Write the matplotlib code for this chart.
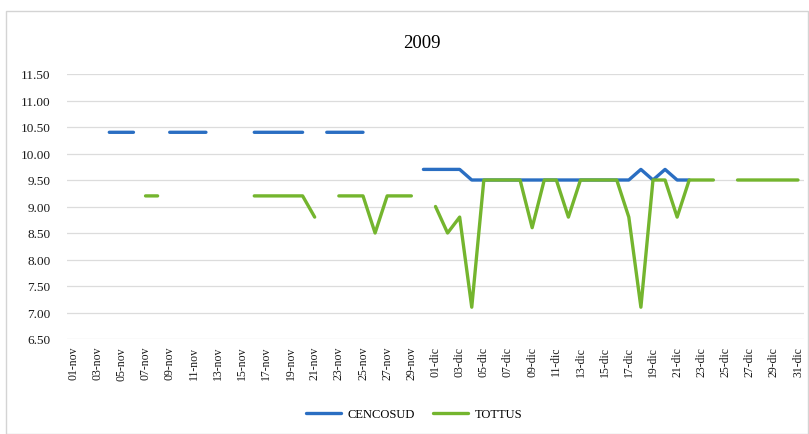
import numpy as np
import matplotlib
matplotlib.use("Agg")
import matplotlib.pyplot as plt
from matplotlib.patches import Rectangle

nan = np.nan

# categories: one per day, 01-nov .. 31-dic
dias = [f"{d:02d}-nov" for d in range(1, 31)] + [f"{d:02d}-dic" for d in range(1, 32)]

cencosud = [nan, nan, nan, 10.4, 10.4, 10.4, nan, nan, 10.4, 10.4,
            10.4, 10.4, nan, nan, nan, 10.4, 10.4, 10.4, 10.4, 10.4,
            nan, 10.4, 10.4, 10.4, 10.4, nan, nan, nan, nan, 9.7,
            9.7, 9.7, 9.7, 9.5, 9.5, 9.5, 9.5, 9.5, 9.5, 9.5,
            9.5, 9.5, 9.5, 9.5, 9.5, 9.5, 9.5, 9.7, 9.5, 9.7,
            9.5, 9.5, nan, nan, nan, nan, nan, nan, nan, nan, nan]

tottus = [nan, nan, nan, nan, nan, nan, 9.2, 9.2, nan, nan,
          nan, nan, nan, nan, nan, 9.2, 9.2, 9.2, 9.2, 9.2,
          8.8, nan, 9.2, 9.2, 9.2, 8.5, 9.2, 9.2, 9.2, nan,
          9.0, 8.5, 8.8, 7.1, 9.5, 9.5, 9.5, 9.5, 8.6, 9.5,
          9.5, 8.8, 9.5, 9.5, 9.5, 9.5, 8.8, 7.1, 9.5, 9.5,
          8.8, 9.5, 9.5, 9.5, nan, 9.5, 9.5, 9.5, 9.5, 9.5, 9.5]

yticks = [6.5, 7.0, 7.5, 8.0, 8.5, 9.0, 9.5, 10.0, 10.5, 11.0, 11.5]

plt.rcParams['font.family'] = ['Liberation Serif', 'DejaVu Serif']

fig = plt.figure(figsize=(8.09, 4.35), dpi=100)
ax = fig.add_axes([67 / 809, 95 / 435, 737 / 809, 265 / 435])

x = np.arange(len(dias))
ax.plot(x, cencosud, color='#2A6EC2', lw=2.4, label='CENCOSUD', solid_capstyle='round', solid_joinstyle='round')
ax.plot(x, tottus, color='#74B52E', lw=2.4, label='TOTTUS', solid_capstyle='round', solid_joinstyle='round')

ax.set_xlim(-0.5, len(dias) - 0.5)
ax.set_ylim(6.5, 11.5)
ax.set_yticks(yticks)
ax.set_yticklabels([f"{v:.2f}" for v in yticks], fontsize=9.5, color='#1a1a1a')
ax.set_xticks(x[::2])
ax.set_xticklabels(dias[::2], rotation=90, fontsize=8.5, color='#1a1a1a')
ax.tick_params(axis='y', length=0, pad=12)
ax.tick_params(axis='x', length=0, pad=5)
ax.grid(axis='y', color='#dcdcdc', lw=0.9)
ax.set_axisbelow(True)
for s in ax.spines.values():
    s.set_visible(False)

fig.text(422 / 809, 1 - 44 / 435, '2009', ha='center', va='center', fontsize=13.5)

ax.legend(loc='center', bbox_to_anchor=(414 / 809, 1 - 415 / 435), bbox_transform=fig.transFigure,
          ncol=2, frameon=False, fontsize=9, handlelength=2.8, handletextpad=0.5, columnspacing=1.5)

# outer chart border
fig.patches.append(Rectangle((6 / 809, 0 / 435), 802 / 809, 423 / 435, transform=fig.transFigure,
                             fill=False, edgecolor='#d4d4d4', lw=1))

fig.savefig('out.png', dpi=100, facecolor='white')
